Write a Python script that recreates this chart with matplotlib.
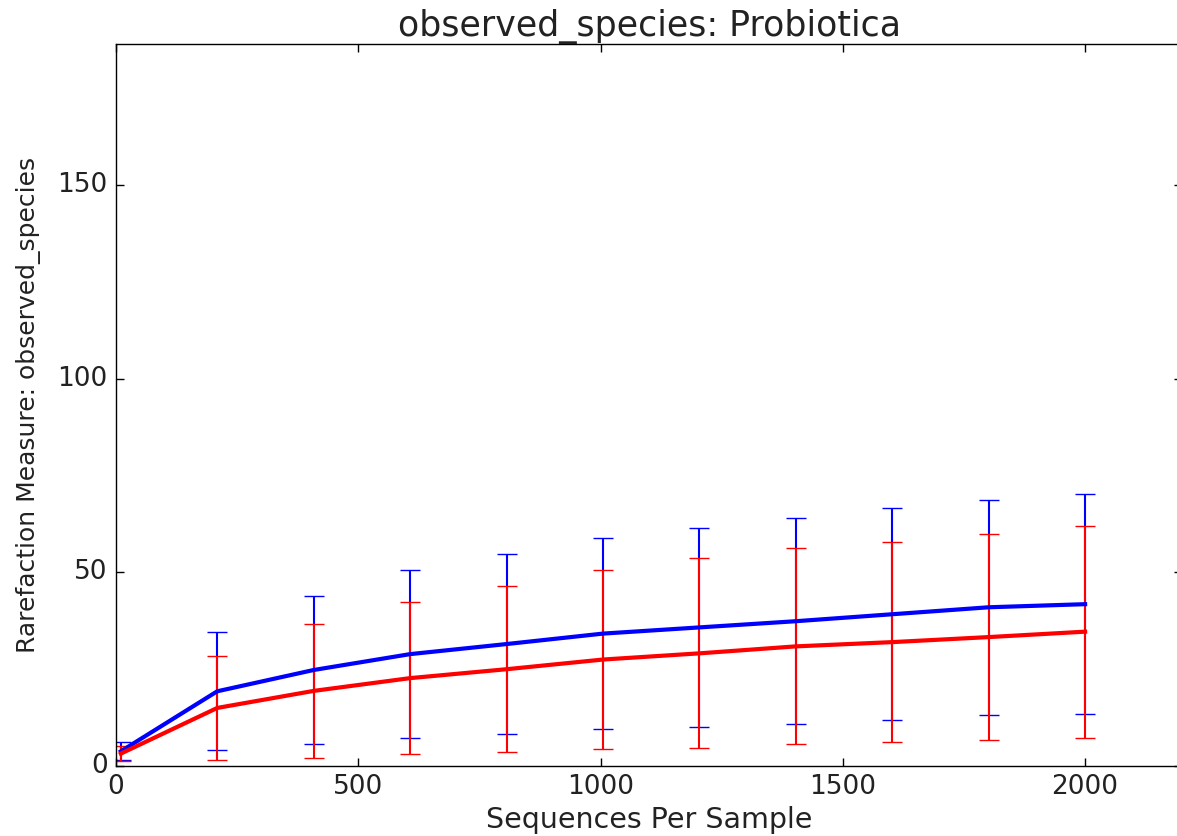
import numpy as np
import matplotlib
matplotlib.use('Agg')
import matplotlib.pyplot as plt

plt.style.use('classic')

depths = [10, 209, 408, 607, 806, 1005, 1204, 1403, 1602, 1801, 2000]

blue_mean = [3.8, 19.3, 24.8, 28.9, 31.5, 34.2, 35.8, 37.4, 39.2, 41.0, 41.8]
blue_err = [2.3, 15.2, 19.2, 21.7, 23.3, 24.6, 25.6, 26.6, 27.4, 27.7, 28.4]

red_mean = [3.2, 15.0, 19.4, 22.7, 25.0, 27.5, 29.1, 30.9, 32.0, 33.3, 34.7]
red_err = [2.0, 13.4, 17.3, 19.6, 21.4, 23.1, 24.5, 25.3, 25.9, 26.6, 27.4]

fig = plt.figure(figsize=(11.77, 8.36), dpi=100, facecolor='white')
ax = fig.add_axes([116/1177, 70/836, 1066/1177, 722/836])

ax.errorbar(depths, blue_mean, yerr=blue_err, color='#0000ff', lw=3,
            elinewidth=1.5, capsize=7, capthick=1.0, ecolor='#0000ff')
ax.errorbar(depths, red_mean, yerr=red_err, color='#ff0000', lw=3,
            elinewidth=1.5, capsize=7, capthick=1.0, ecolor='#ff0000')

ax.set_xlim(0, 2200)
ax.set_ylim(0, 186.5)
ax.set_xticks([0, 500, 1000, 1500, 2000])
ax.set_yticks([0, 50, 100, 150])
ax.tick_params(labelsize=19, length=6, width=1, direction='in', pad=6,
               labelcolor='#222222')

ax.set_title('observed_species: Probiotica', fontsize=25, pad=6, color='#222222')
ax.set_xlabel('Sequences Per Sample', fontsize=20.5, labelpad=4, color='#222222')
ax.set_ylabel('Rarefaction Measure: observed_species', fontsize=18, labelpad=12,
              color='#222222')

fig.savefig('out.png', dpi=100, facecolor='white')
